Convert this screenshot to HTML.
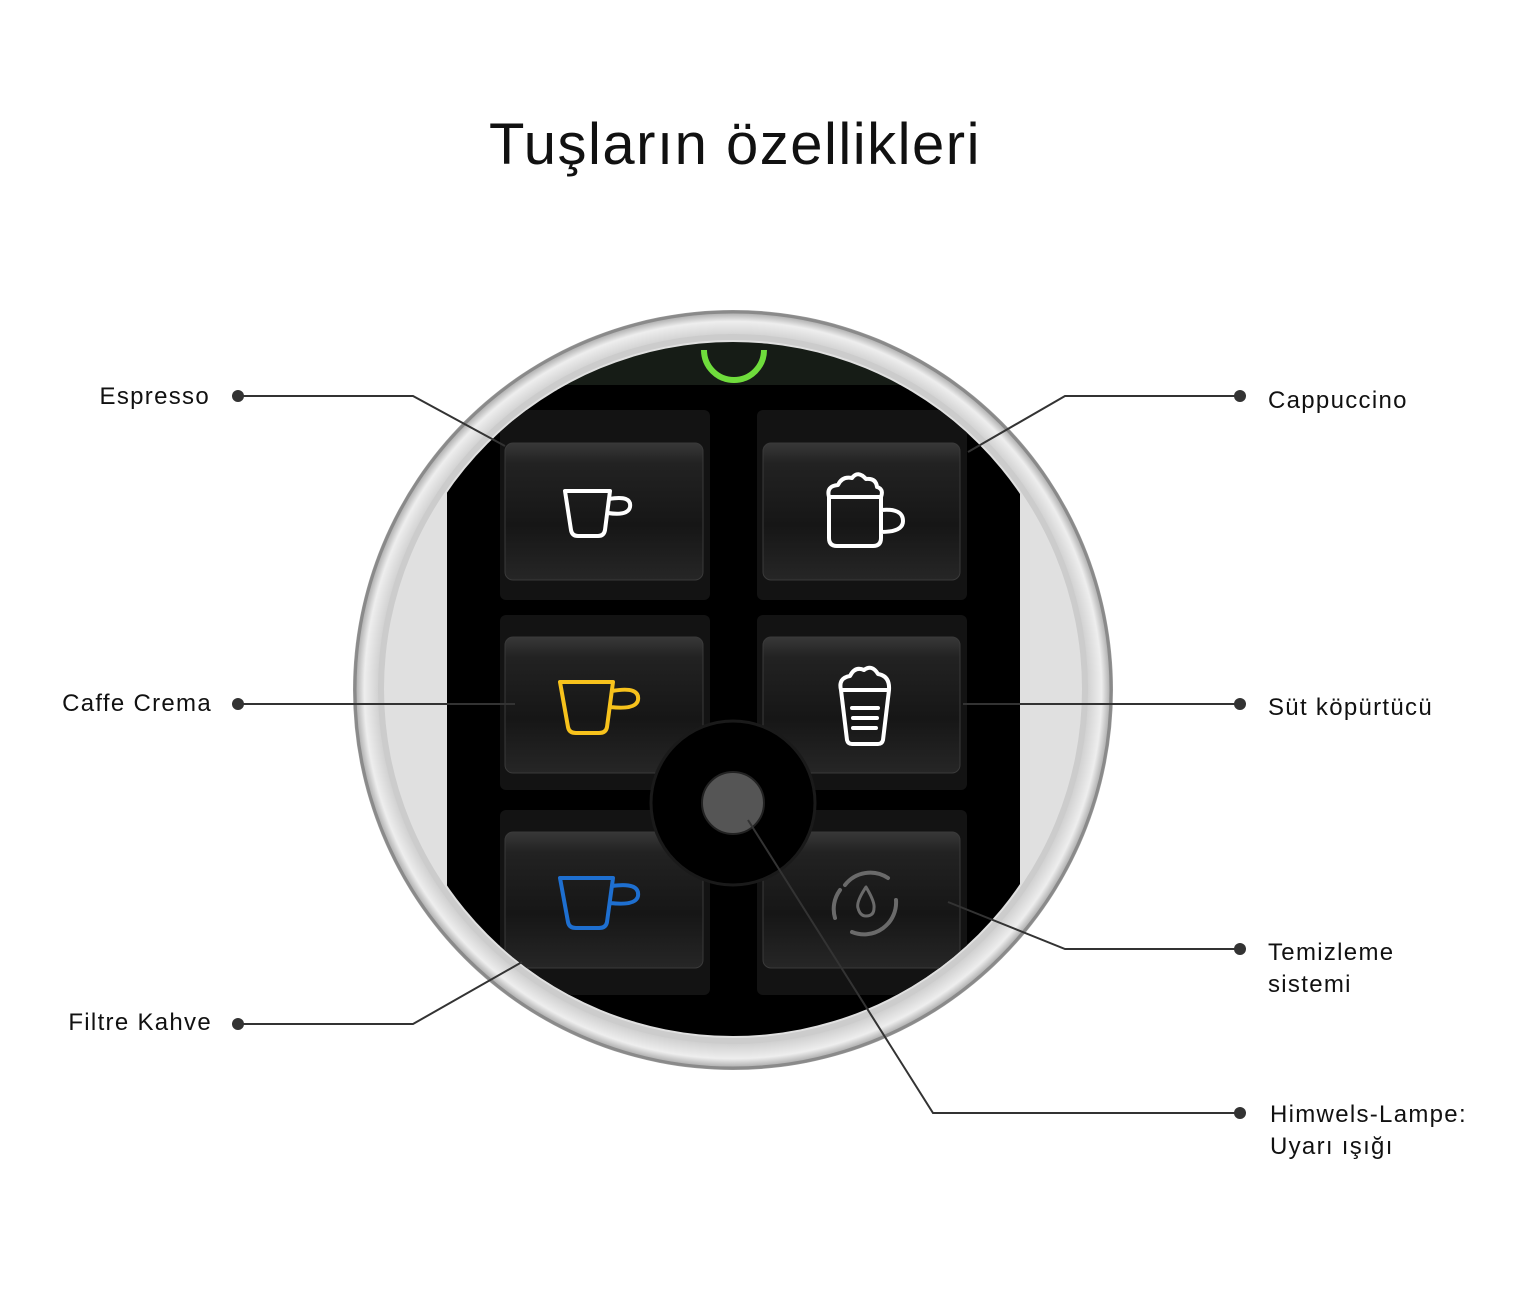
<!DOCTYPE html>
<html><head><meta charset="utf-8"><style>
html,body{margin:0;padding:0;background:#fff;}
svg{display:block}
text{font-family:"Liberation Sans",sans-serif;fill:#111;}
</style></head><body>
<svg width="1521" height="1295" viewBox="0 0 1521 1295" xmlns="http://www.w3.org/2000/svg">
<defs>
<radialGradient id="ring" cx="0.5" cy="0.5" r="0.5">
<stop offset="0.85" stop-color="#f4f4f4"/>
<stop offset="0.93" stop-color="#cfcfcf"/>
<stop offset="0.97" stop-color="#eeeeee"/>
<stop offset="1" stop-color="#9a9a9a"/>
</radialGradient>
<linearGradient id="btn" x1="0" y1="0" x2="0" y2="1">
<stop offset="0" stop-color="#383838"/>
<stop offset="0.15" stop-color="#222"/>
<stop offset="0.6" stop-color="#161616"/>
<stop offset="1" stop-color="#262626"/>
</linearGradient>
<clipPath id="disc"><circle cx="733" cy="689" r="347"/></clipPath>
</defs>
<text x="735" y="164" font-size="58" text-anchor="middle" letter-spacing="1.5">Tuşların özellikleri</text>

<circle cx="733" cy="690" r="380" fill="url(#ring)"/>
<circle cx="733" cy="690" r="378" fill="none" stroke="#8a8a8a" stroke-width="3"/>
<circle cx="733" cy="689" r="355" fill="#cccccc"/>
<circle cx="733" cy="689" r="349" fill="#e0e0e0"/>
<g clip-path="url(#disc)">
<rect x="330" y="330" width="800" height="60" fill="#161c16"/>
<rect x="447" y="385" width="573" height="720" rx="10" fill="#000"/>
<path d="M704 350 A30 30 0 0 0 764 350" fill="none" stroke="#6fdc3c" stroke-width="6"/>
<g fill="#131313">
<rect x="500" y="410" width="210" height="190" rx="6"/>
<rect x="757" y="410" width="210" height="190" rx="6"/>
<rect x="500" y="615" width="210" height="175" rx="6"/>
<rect x="757" y="615" width="210" height="175" rx="6"/>
<rect x="500" y="810" width="210" height="185" rx="6"/>
<rect x="757" y="810" width="210" height="185" rx="6"/>
</g>
<g fill="url(#btn)" stroke="#3a3a3a" stroke-width="1">
<rect x="505" y="443" width="198" height="137" rx="8"/>
<rect x="763" y="443" width="197" height="137" rx="8"/>
<rect x="505" y="637" width="198" height="136" rx="8"/>
<rect x="763" y="637" width="197" height="136" rx="8"/>
<rect x="505" y="832" width="198" height="136" rx="8"/>
<rect x="763" y="832" width="197" height="136" rx="8"/>
</g>
<circle cx="733" cy="803" r="82" fill="#000" stroke="#1a1a1a" stroke-width="3"/>
<circle cx="733" cy="803" r="31" fill="#555" stroke="#222" stroke-width="2"/>
</g>
<g fill="none" stroke-width="4" stroke-linejoin="round" stroke-linecap="round">
<path d="M565 491 L610 491 L605 530 Q604 536 598 536 L578 536 Q572 536 571 530 Z M609 499 Q632 495 630 507 Q628 516 608 513" stroke="#fff"/>
<path d="M560 682 L613 682 L607 727 Q606 733 599 733 L576 733 Q569 733 568 727 Z M612 691 Q640 686 638 700 Q636 710 610 707" stroke="#f7c21c" />
<path d="M560 878 L613 878 L607 922 Q606 928 599 928 L576 928 Q569 928 568 922 Z M612 886 Q640 882 638 896 Q636 906 610 903" stroke="#1e6fd0"/>
<path d="M829 497 L881 497 L881 538 Q881 546 873 546 L837 546 Q829 546 829 538 Z M881 510 Q903 508 903 521 Q903 532 881 532 M829 497 Q826 486 838 485 Q842 476 852 478 Q858 470 866 479 Q876 478 877 487 Q884 489 881 497" stroke="#fff"/>
<path d="M841 690 L889 690 L883 740 Q882 744 878 744 L852 744 Q848 744 847 740 Z M841 690 Q838 678 850 676 Q855 666 864 670 Q872 664 878 674 Q890 676 889 690 M852 708 L878 708 M853 718 L877 718 M853 728 L876 728" stroke="#fff"/>
<path d="M845 885 A32 32 0 0 1 888 878 M896 900 A32 32 0 0 1 852 932 M835 918 A32 32 0 0 1 840 890" stroke="#6a6a6a"/>
<path d="M866 887 Q856 902 858 908 Q860 916 866 916 Q874 916 874 908 Q875 902 866 887 Z" stroke="#6a6a6a" stroke-width="3"/>
</g>
<g stroke="#333" stroke-width="2" fill="none">
<polyline points="238,396 413,396 505,446"/>
<polyline points="238,704 515,704"/>
<polyline points="238,1024 413,1024 522,962"/>
<polyline points="1240,396 1065,396 968,452"/>
<polyline points="1240,704 963,704"/>
<polyline points="1240,949 1065,949 948,902"/>
<polyline points="1240,1113 933,1113 748,820"/>
</g>
<g fill="#333">
<circle cx="238" cy="396" r="6"/><circle cx="238" cy="704" r="6"/><circle cx="238" cy="1024" r="6"/>
<circle cx="1240" cy="396" r="6"/><circle cx="1240" cy="704" r="6"/><circle cx="1240" cy="949" r="6"/><circle cx="1240" cy="1113" r="6"/>
</g>
<g font-size="24" letter-spacing="1.3">
<text x="210" y="404" text-anchor="end">Espresso</text>
<text x="212" y="711" text-anchor="end">Caffe Crema</text>
<text x="212" y="1030" text-anchor="end">Filtre Kahve</text>
<text x="1268" y="408">Cappuccino</text>
<text x="1268" y="715">Süt köpürtücü</text>
<text x="1268" y="960">Temizleme</text>
<text x="1268" y="992">sistemi</text>
<text x="1270" y="1122">Himwels-Lampe:</text>
<text x="1270" y="1154">Uyarı ışığı</text>
</g>
</svg>
</body></html>
